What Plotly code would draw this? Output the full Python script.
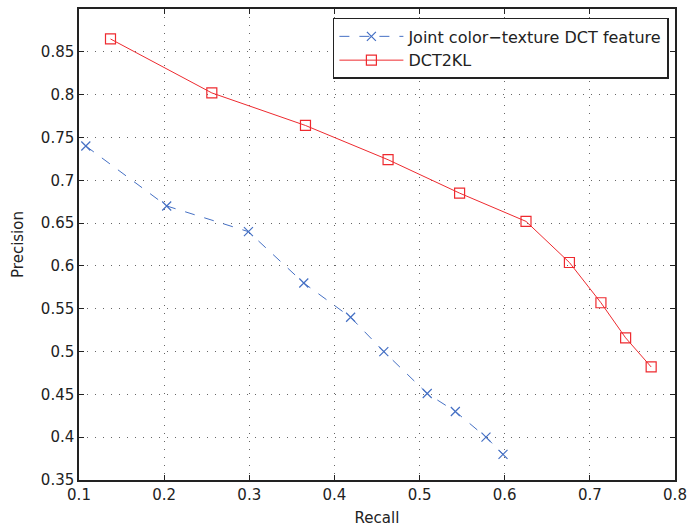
import plotly.graph_objects as go

# Data
joint_recall = [0.108, 0.203, 0.299, 0.364, 0.419, 0.458, 0.509, 0.542, 0.578, 0.598]
joint_precision = [0.740, 0.670, 0.640, 0.580, 0.540, 0.500, 0.451, 0.430, 0.400, 0.380]
dct2kl_recall = [0.137, 0.256, 0.366, 0.463, 0.547, 0.625, 0.676, 0.713, 0.742, 0.772]
dct2kl_precision = [0.865, 0.802, 0.764, 0.724, 0.685, 0.652, 0.604, 0.557, 0.516, 0.482]
x_ticks = [0.1, 0.2, 0.3, 0.4, 0.5, 0.6, 0.7, 0.8]
y_ticks = [0.35, 0.4, 0.45, 0.5, 0.55, 0.6, 0.65, 0.7, 0.75, 0.8, 0.85]

BLUE = "#4570c4"
RED = "#ee2a2f"
FONT = "DejaVu Sans, Arial, sans-serif"
TXT = "#222"

fig = go.Figure()
fig.add_trace(go.Scatter(
    x=joint_recall, y=joint_precision, mode="lines+markers",
    name="Joint color\u2212texture DCT feature", legendgroup="a",
    line=dict(color=BLUE, width=1, dash="10px,10px"),
    marker=dict(symbol="x-thin-open", size=9, line=dict(color=BLUE, width=1.2), color=BLUE),
))
fig.add_trace(go.Scatter(
    x=dct2kl_recall, y=dct2kl_precision, mode="lines+markers",
    name="DCT2KL", legendgroup="b",
    line=dict(color=RED, width=1),
    marker=dict(symbol="square-open", size=10, line=dict(color=RED, width=1.2), color=RED),
))

axis_common = dict(
    showline=True, linecolor=TXT, linewidth=1.5, mirror="ticks",
    ticks="inside", ticklen=5, tickcolor=TXT,
    showgrid=True, gridcolor="#666", gridwidth=1, griddash="1px,7px",
    zeroline=False, automargin=False,
    tickfont=dict(family=FONT, size=15, color=TXT),
)

fig.update_xaxes(range=[0.1, 0.8], tickvals=x_ticks, ticktext=[f"{v:g}" for v in x_ticks],
                 title=dict(text="Recall", font=dict(family=FONT, size=15, color=TXT), standoff=11),
                 **axis_common)
fig.update_yaxes(range=[0.35, 0.9], tickvals=y_ticks, ticktext=[f"{v:g}" for v in y_ticks],
                 title=dict(text="Precision", font=dict(family=FONT, size=15, color=TXT), standoff=14),
                 **axis_common)

fig.update_layout(
    width=687, height=527,
    margin=dict(l=79, r=12, t=9, b=47),
    plot_bgcolor="white", paper_bgcolor="white",
    font=dict(family=FONT, size=15, color=TXT),
    legend=dict(x=0.426, y=0.981, xanchor="left", yanchor="top",
                bordercolor=TXT, borderwidth=1.5, bgcolor="white",
                font=dict(family=FONT, size=16, color=TXT),
                tracegroupgap=0, itemwidth=64),
    showlegend=True,
)

fig.write_html("out.html")
